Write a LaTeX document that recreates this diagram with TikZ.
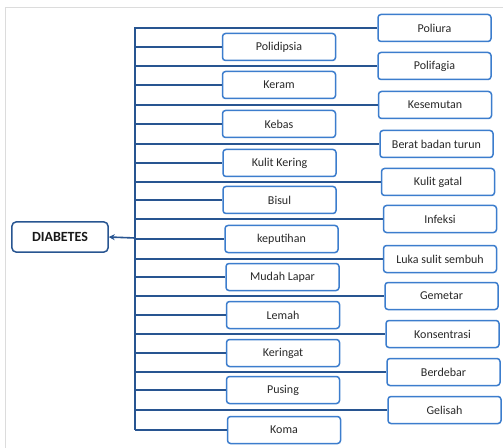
\documentclass[tikz,border=0pt]{standalone}
\usepackage{fontspec}
\setmainfont{Carlito}
\usetikzlibrary{arrows.meta}
\definecolor{boxblue}{RGB}{60,125,205}
\definecolor{lineblue}{RGB}{40,85,145}
\definecolor{txt}{RGB}{40,40,40}
\definecolor{framegray}{RGB}{220,220,220}
\tikzset{
  sym/.style={draw=boxblue, line width=1.5bp, rounded corners=3bp, fill=white,
    minimum width=113bp, minimum height=27bp, inner sep=0pt,
    font=\fontsize{12bp}{14bp}\selectfont, text=txt},
  rootbox/.style={draw=lineblue, line width=1.5bp, rounded corners=4bp, fill=white,
    minimum width=96bp, minimum height=30bp, inner sep=0pt,
    font=\bfseries\fontsize{14bp}{16bp}\selectfont, text=black!90},
  conn/.style={draw=lineblue, line width=1.6bp},
}
\begin{document}
\begin{tikzpicture}[x=1bp,y=-1bp]
\useasboundingbox (0,0) rectangle (503,448);
\fill[white] (0,0) rectangle (503,448);
\draw[framegray, line width=1bp] (5.5,448) -- (5.5,7.5) -- (503,7.5);
% trunk
\coordinate (top) at (135,28);
\coordinate (bot) at (135,429);
\coordinate (mid) at (135,238);
\draw[conn, line cap=rect] (top) -- (bot);
% root
\node[rootbox] (root) at (60,237) {DIABETES};
\draw[conn, -{Stealth[length=6bp,width=6bp]}] (mid) -- (root.east);
% right column
\foreach \n/\t/\x/\y in {
  r1/Poliura/434.5/28,
  r2/Polifagia/434.5/66,
  r3/Kesemutan/435/105,
  r4/Berat badan turun/436.5/144,
  r5/Kulit gatal/438/182,
  r6/Infeksi/440/219,
  r7/Luka sulit sembuh/440/259,
  r8/Gemetar/441.5/296,
  r9/Konsentrasi/442.5/334,
  r10/Berdebar/443.5/372,
  r11/Gelisah/444.5/410}{
  \node[sym] (\n) at (\x,\y) {\t};
  \coordinate (j\n) at (135,\y);
  \draw[conn] (j\n) -- (\n.west);
}
% left column
\foreach \n/\t/\x/\y in {
  l1/Polidipsia/279/47,
  l2/Keram/279/85,
  l3/Kebas/279/124,
  l4/Kulit Kering/279.5/163,
  l5/Bisul/279.5/200,
  l6/keputihan/281.5/239,
  l7/Mudah Lapar/282.5/277,
  l8/Lemah/283/315,
  l9/Keringat/283/353,
  l10/Pusing/283/390,
  l11/Koma/284/430}{
  \node[sym] (\n) at (\x,\y) {\t};
  \coordinate (j\n) at (135,\y);
  \draw[conn] (j\n) -- (\n.west);
}
\end{tikzpicture}
\end{document}
